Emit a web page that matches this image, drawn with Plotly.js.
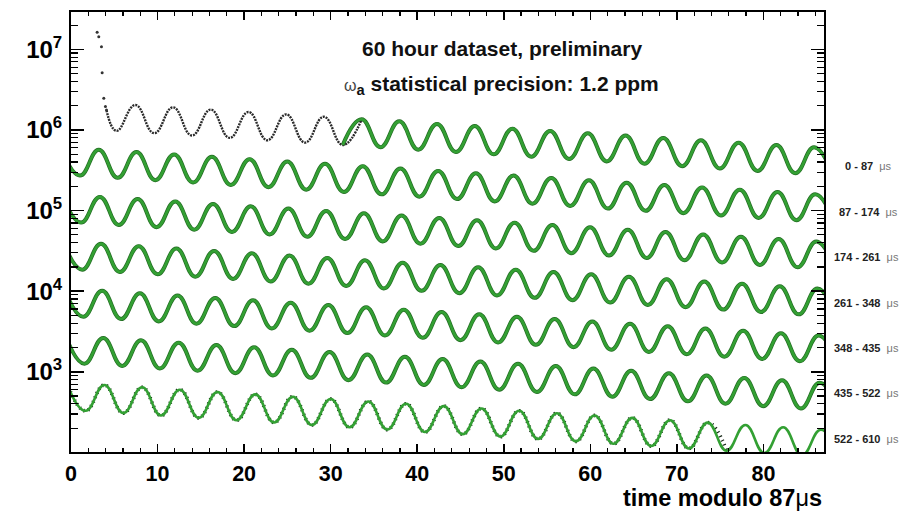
<!DOCTYPE html>
<html><head><meta charset="utf-8">
<script src="https://cdn.plot.ly/plotly-3.0.1.min.js"></script>
<style>html,body{margin:0;padding:0;background:#fff;}</style>
</head><body><div id="chart" style="width:902px;height:513px;"></div>
<script>
// ---- data ----
const wrapPeriod = 87; // microseconds
// times (µs since injection) and counts of the wiggle maxima
const peakTimes = [-1.28,3.08,7.44,11.79,16.15,20.51,24.86,29.22,33.58,37.93,
42.29,46.65,51.00,55.36,59.71,64.07,68.43,72.78,77.14,81.50,
85.85,90.21,94.57,98.92,103.28,107.64,111.99,116.35,120.71,125.06,
129.42,133.78,138.13,142.49,146.84,151.20,155.56,159.91,164.27,168.63,
172.98,177.34,181.70,186.05,190.41,194.77,199.12,203.48,207.84,212.19,
216.55,220.91,225.26,229.62,233.97,238.33,242.69,247.04,251.40,255.76,
260.11,264.47,268.83,273.18,277.54,281.90,286.25,290.61,294.97,299.32,
303.68,308.04,312.39,316.75,321.10,325.46,329.82,334.17,338.53,342.89,
347.24,351.60,355.96,360.31,364.67,369.03,373.38,377.74,382.10,386.45,
390.81,395.17,399.52,403.88,408.23,412.59,416.95,421.30,425.66,430.02,
434.37,438.73,443.09,447.44,451.80,456.16,460.51,464.87,469.23,473.58,
477.94,482.30,486.65,491.01,495.36,499.72,504.08,508.43,512.79,517.15,
521.50,525.86,530.22,534.57,538.93,543.29,547.64,552.00,556.36,560.71,
565.07,569.43,573.78,578.14,582.49,586.85,591.21,595.56,599.92,604.28,
608.63,612.99];
const peakCounts = [2.34e6,2.18e6,2.04e6,1.91e6,1.79e6,1.67e6,1.56e6,1.46e6,1.36e6,1.28e6,
1.19e6,1.12e6,1.04e6,9.75e5,9.12e5,8.52e5,7.97e5,7.45e5,6.97e5,6.51e5,
6.09e5,5.69e5,5.32e5,4.98e5,4.65e5,4.35e5,4.07e5,3.80e5,3.56e5,3.33e5,
3.11e5,2.91e5,2.72e5,2.54e5,2.38e5,2.22e5,2.08e5,1.94e5,1.82e5,1.70e5,
1.59e5,1.48e5,1.39e5,1.30e5,1.21e5,1.13e5,1.06e5,9.92e4,9.28e4,8.67e4,
8.11e4,7.58e4,7.09e4,6.63e4,6.20e4,5.79e4,5.42e4,5.07e4,4.74e4,4.43e4,
4.14e4,3.87e4,3.62e4,3.38e4,3.16e4,2.96e4,2.77e4,2.59e4,2.42e4,2.26e4,
2.11e4,1.98e4,1.85e4,1.73e4,1.62e4,1.51e4,1.41e4,1.32e4,1.24e4,1.15e4,
1.08e4,1.01e4,9.44e3,8.83e3,8.25e3,7.72e3,7.21e3,6.75e3,6.31e3,5.90e3,
5.51e3,5.16e3,4.82e3,4.51e3,4.21e3,3.94e3,3.68e3,3.44e3,3.22e3,3.01e3,
2.82e3,2.63e3,2.46e3,2.30e3,2.15e3,2.01e3,1.88e3,1.76e3,1.64e3,1.54e3,
1.44e3,1.34e3,1.26e3,1.18e3,1.10e3,1.03e3,961,898,840,785,
734,686,642,600,561,525,491,459,429,401,
375,351,328,306,287,268,251,234,219,205,
191,179];
// times and counts of the wiggle minima
const troughTimes = [0.90,5.26,9.61,13.97,18.33,22.68,27.04,31.40,35.75,40.11,
44.47,48.82,53.18,57.54,61.89,66.25,70.61,74.96,79.32,83.68,
88.03,92.39,96.74,101.10,105.46,109.81,114.17,118.53,122.88,127.24,
131.60,135.95,140.31,144.67,149.02,153.38,157.74,162.09,166.45,170.81,
175.16,179.52,183.87,188.23,192.59,196.94,201.30,205.66,210.01,214.37,
218.73,223.08,227.44,231.80,236.15,240.51,244.87,249.22,253.58,257.94,
262.29,266.65,271.00,275.36,279.72,284.07,288.43,292.79,297.14,301.50,
305.86,310.21,314.57,318.93,323.28,327.64,332.00,336.35,340.71,345.07,
349.42,353.78,358.13,362.49,366.85,371.20,375.56,379.92,384.27,388.63,
392.99,397.34,401.70,406.06,410.41,414.77,419.13,423.48,427.84,432.20,
436.55,440.91,445.26,449.62,453.98,458.33,462.69,467.05,471.40,475.76,
480.12,484.47,488.83,493.19,497.54,501.90,506.26,510.61,514.97,519.33,
523.68,528.04,532.39,536.75,541.11,545.46,549.82,554.18,558.53,562.89,
567.25,571.60,575.96,580.32,584.67,589.03,593.39,597.74,602.10,606.46,
610.81];
const troughCounts = [1.04e6,9.76e5,9.13e5,8.54e5,7.98e5,7.46e5,6.98e5,6.52e5,6.10e5,5.70e5,
5.33e5,4.99e5,4.66e5,4.36e5,4.08e5,3.81e5,3.56e5,3.33e5,3.11e5,2.91e5,
2.72e5,2.55e5,2.38e5,2.23e5,2.08e5,1.95e5,1.82e5,1.70e5,1.59e5,1.49e5,
1.39e5,1.30e5,1.22e5,1.14e5,1.06e5,9.94e4,9.29e4,8.69e4,8.12e4,7.59e4,
7.10e4,6.64e4,6.21e4,5.80e4,5.43e4,5.07e4,4.74e4,4.44e4,4.15e4,3.88e4,
3.63e4,3.39e4,3.17e4,2.96e4,2.77e4,2.59e4,2.42e4,2.27e4,2.12e4,1.98e4,
1.85e4,1.73e4,1.62e4,1.51e4,1.42e4,1.32e4,1.24e4,1.16e4,1.08e4,1.01e4,
9.45e3,8.84e3,8.27e3,7.73e3,7.23e3,6.76e3,6.32e3,5.91e3,5.52e3,5.16e3,
4.83e3,4.51e3,4.22e3,3.95e3,3.69e3,3.45e3,3.23e3,3.02e3,2.82e3,2.64e3,
2.47e3,2.31e3,2.16e3,2.02e3,1.88e3,1.76e3,1.65e3,1.54e3,1.44e3,1.35e3,
1.26e3,1.18e3,1.10e3,1.03e3,962,900,841,786,735,688,
643,601,562,525,491,459,430,402,375,351,
328,307,287,268,251,235,219,205,192,179,
168,157,147,137,128,120,112,105,98,92,
86];
// early (flash) data points at the start of the fill
const spikeTimes  = [3.02, 3.21, 3.52, 3.60, 3.79, 3.98, 4.10];
const spikeCounts = [1.63e7, 1.44e7, 1.08e7, 5.14e6, 2.47e6, 1.95e6, 1.77e6];
const fitStart = 31.40;   // µs, start of the fit curve
const dataEnd  = 597.74;  // µs, last data point drawn
const rowLabels = ['0 - 87', '87 - 174', '174 - 261', '261 - 348', '348 - 435', '435 - 522', '522 - 610'];
const xTickVals = [0, 10, 20, 30, 40, 50, 60, 70, 80];
const yTickVals = [1e3, 1e4, 1e5, 1e6, 1e7];
const yTickText = ['10<sup>3</sup>', '10<sup>4</sup>', '10<sup>5</sup>', '10<sup>6</sup>', '10<sup>7</sup>'];
const titleLine1 = '60 hour dataset, preliminary';
const titleLine2 = '<span style="font-weight:normal;font-size:16px;color:#444">ω</span><sub>a</sub> statistical precision: 1.2 ppm';
const xTitle = 'time modulo 87<span style="font-weight:normal">μ</span>s';

// ---- build ----
const ext = [];
peakTimes.forEach((t, i) => ext.push([t, peakCounts[i]]));
troughTimes.forEach((t, i) => ext.push([t, troughCounts[i]]));
ext.sort((a, b) => a[0] - b[0]);
const nRows = rowLabels.length;

function seg(t0, t1, k) {
  const pts = ext.filter(p => p[0] >= t0 - 1e-6 && p[0] <= t1 + 1e-6);
  return { x: pts.map(p => p[0] - wrapPeriod * k), y: pts.map(p => p[1]) };
}
const GREEN = '#33a033', DARK = '#246c24';
const traces = [];
const under = [], fits = [];
for (let k = 0; k < nRows; k++) {
  const lo = k === 0 ? fitStart : wrapPeriod * k - 2.5;
  const hi = wrapPeriod * (k + 1) + 2.5;
  const s = seg(lo, hi, k);
  if (k < nRows - 1) {
    under.push({ type: 'scatter', mode: 'lines', x: s.x, y: s.y, hoverinfo: 'skip',
      line: { color: DARK, width: 4.0, shape: 'spline', smoothing: 1.3 } });
  } else {
    const d = seg(lo, dataEnd, k);
    under.push({ type: 'scatter', mode: 'lines', x: d.x, y: d.y, hoverinfo: 'skip',
      line: { color: '#1a2a1a', width: 3.8, shape: 'spline', smoothing: 1.3, dash: '1.2px,3.5px' } });
  }
  fits.push({ type: 'scatter', mode: 'lines', x: s.x, y: s.y,
    line: { color: GREEN, width: 2.6, shape: 'spline', smoothing: 1.3 } });
}
// first row raw data (black dots)
const d0 = seg(spikeTimes[spikeTimes.length - 1] + 0.5, fitStart + 2.3, 0);
const blackX = [spikeTimes[spikeTimes.length - 1]].concat(d0.x);
const blackY = [spikeCounts[spikeCounts.length - 1]].concat(d0.y);
const blackLine = { type: 'scatter', mode: 'lines', x: blackX, y: blackY,
  line: { color: '#2a2a2a', width: 2.4, shape: 'spline', smoothing: 1.3, dash: '2px,1px' } };
const spikes = { type: 'scatter', mode: 'markers', x: spikeTimes, y: spikeCounts,
  marker: { color: '#333', size: 3 } };

traces.push(...under, blackLine, spikes, ...fits);

const minorY = [];
for (let e = 2; e <= 7; e++) for (let m = 2; m <= 9; m++) minorY.push(m * Math.pow(10, e));
const minorX = [];
for (let v = 2; v < 87; v += 2) if (v % 10 !== 0) minorX.push(v);

const F = 'Liberation Sans, Arial, Helvetica, sans-serif';
const annotations = [
  { text: titleLine1, xref: 'paper', yref: 'paper', x: 0.572, y: 0.918, showarrow: false,
    xanchor: 'center', yanchor: 'middle', font: { family: F, size: 21, weight: 'bold', color: '#111' } },
  { text: titleLine2, xref: 'paper', yref: 'paper', x: 0.572, y: 0.834, showarrow: false,
    xanchor: 'center', yanchor: 'middle', font: { family: F, size: 21, weight: 'bold', color: '#111' } },
  { text: xTitle, xref: 'paper', yref: 'paper', x: 1.0, y: -0.1055, showarrow: false,
    xanchor: 'right', yanchor: 'middle', font: { family: F, size: 23.5, weight: 'bold', color: '#000' } }
];
const labelY = [0.650, 0.545, 0.443, 0.339, 0.236, 0.134, 0.0295];
const labelX = [843, 837, 832, 832, 832, 832, 832];
rowLabels.forEach((lab, i) => {
  annotations.push({ text: lab + '\u00a0 <span style="font-weight:normal;color:#777">μs</span>',
    xref: 'paper', yref: 'paper', x: (labelX[i] - 71) / 753, y: labelY[i], showarrow: false,
    xanchor: 'left', yanchor: 'middle', font: { family: F, size: 11, weight: 'bold', color: '#222' } });
});

const layout = {
  width: 902, height: 513, autosize: false,
  margin: { l: 71, r: 78, t: 12, b: 61, pad: 0 },
  paper_bgcolor: '#fff', plot_bgcolor: '#fff',
  showlegend: false,
  xaxis: {
    range: [0, 87], tickvals: xTickVals, ticks: 'inside', ticklen: 8, tickwidth: 1.5, tickcolor: '#000',
    showline: true, linewidth: 2, linecolor: '#000', mirror: 'ticks', showgrid: false, zeroline: false,
    ticklabelstandoff: 1,
    tickfont: { family: F, size: 21.5, weight: 'bold', color: '#000' },
    minor: { tickvals: minorX, ticks: 'inside', ticklen: 4, tickwidth: 1.2, tickcolor: '#000', showgrid: false }
  },
  yaxis: {
    type: 'log', range: [2.005, 7.464], tickvals: yTickVals, ticktext: yTickText,
    ticks: 'inside', ticklen: 13, tickwidth: 1.5, tickcolor: '#000',
    showline: true, linewidth: 2, linecolor: '#000', mirror: 'ticks', showgrid: false, zeroline: false,
    ticklabelstandoff: 2,
    tickfont: { family: F, size: 24, weight: 'bold', color: '#000' },
    minor: { tickvals: minorY, ticks: 'inside', ticklen: 7, tickwidth: 1.2, tickcolor: '#000', showgrid: false }
  },
  annotations: annotations
};
Plotly.newPlot('chart', traces, layout, { staticPlot: true, displayModeBar: false });
</script>
</body></html>
